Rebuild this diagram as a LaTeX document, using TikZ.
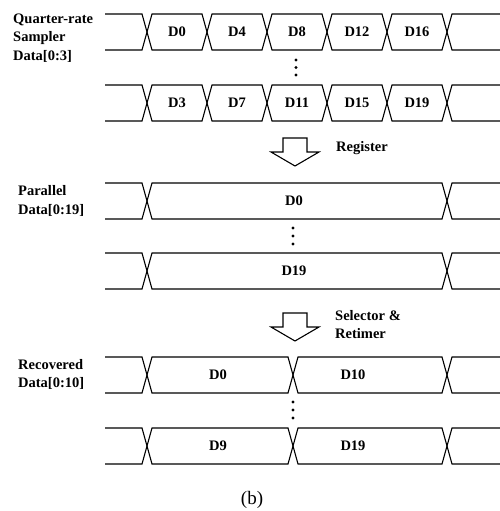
\documentclass[tikz,border=0pt]{standalone}
\usepackage{fontspec}
\setmainfont{Liberation Serif}

% One bus row of a timing diagram: top y, bottom y, first crossing,
% last crossing, list of cell bounds a/b between crossings.
\newcommand\tdrow[5]{%
  \pgfmathsetmacro\tdmid{(#1+#2)/2}%
  \draw[sig] (105,#1) -- (#3-5,#1) -- (#3,\tdmid) -- (#3-5,#2) -- (105,#2);
  \draw[sig] (500,#1) -- (#4+5,#1) -- (#4,\tdmid) -- (#4+5,#2) -- (500,#2);
  \foreach \a/\b in {#5} {%
    \draw[sig] (\a,\tdmid) -- (\a+5,#1) -- (\b-5,#1) -- (\b,\tdmid)
      -- (\b-5,#2) -- (\a+5,#2) -- cycle;}%
}

% Hollow downward flow arrow with its top at (x, y).
\newcommand\flowarrow[2]{%
  \draw[flow] (#1-12,#2) -- (#1+12,#2) -- (#1+12,#2+14) -- (#1+24,#2+14)
    -- (#1,#2+28) -- (#1-24,#2+14) -- (#1-12,#2+14) -- cycle;}

\begin{document}
\begin{tikzpicture}[x=1pt,y=-1pt,
  sig/.style={line width=1.1pt, line join=miter},
  flow/.style={line width=1.1pt, line join=miter},
  lbl/.style={font=\fontsize{14.5}{18.5}\selectfont\bfseries, inner sep=0pt},
  side/.style={lbl, align=left, anchor=west},
  dotmark/.style={fill=black, circle, inner sep=0pt, minimum size=3.2pt}]
\useasboundingbox (0,0) rectangle (500,511);

% Quarter-rate sampler outputs
\tdrow{14}{50}{147}{447}{147/207,207/267,267/327,327/387,387/447}
\tdrow{85}{121}{147}{447}{147/207,207/267,267/327,327/387,387/447}
\foreach \t [count=\i] in {D0,D4,D8,D12,D16}
  \node[lbl] (sa\i) at ({117+60*\i},32) {\t};
\foreach \t [count=\i] in {D3,D7,D11,D15,D19}
  \node[lbl] (sb\i) at ({117+60*\i},103) {\t};
\node[side] (slabel) at (13,38) {Quarter-rate\\Sampler\\Data[0:3]};
\foreach \k in {0,1,2}
  \node[dotmark] (sd\k) at (296,{60+7.5*\k}) {};

% Register stage
\flowarrow{295}{138}
\node[lbl, anchor=west] (reg) at (336,148) {Register};

% Parallel data
\tdrow{183}{219}{147}{447}{147/447}
\tdrow{253}{289}{147}{447}{147/447}
\node[lbl] (pa) at (294,201) {D0};
\node[lbl] (pb) at (294,271) {D19};
\node[side] (plabel) at (18,201) {Parallel\\Data[0:19]};
\foreach \k in {0,1,2}
  \node[dotmark] (pd\k) at (293,{228+8*\k}) {};

% Selector and retimer stage
\flowarrow{295}{313}
\node[side] (sel) at (335,324.5) {Selector \&\\Retimer};

% Recovered data
\tdrow{357}{393}{147}{447}{147/293,293/447}
\tdrow{428}{464}{147}{447}{147/293,293/447}
\node[lbl] (ra1) at (218,375) {D0};
\node[lbl] (ra2) at (353,375) {D10};
\node[lbl] (rb1) at (218,446) {D9};
\node[lbl] (rb2) at (353,446) {D19};
\node[side] (rlabel) at (18,374.5) {Recovered\\Data[0:10]};
\foreach \k in {0,1,2}
  \node[dotmark] (rd\k) at (293,{402+8*\k}) {};

% Sub-figure caption
\node[font=\fontsize{19}{21}\selectfont, inner sep=0pt] (cap) at (252,500) {(b)};
\end{tikzpicture}
\end{document}
